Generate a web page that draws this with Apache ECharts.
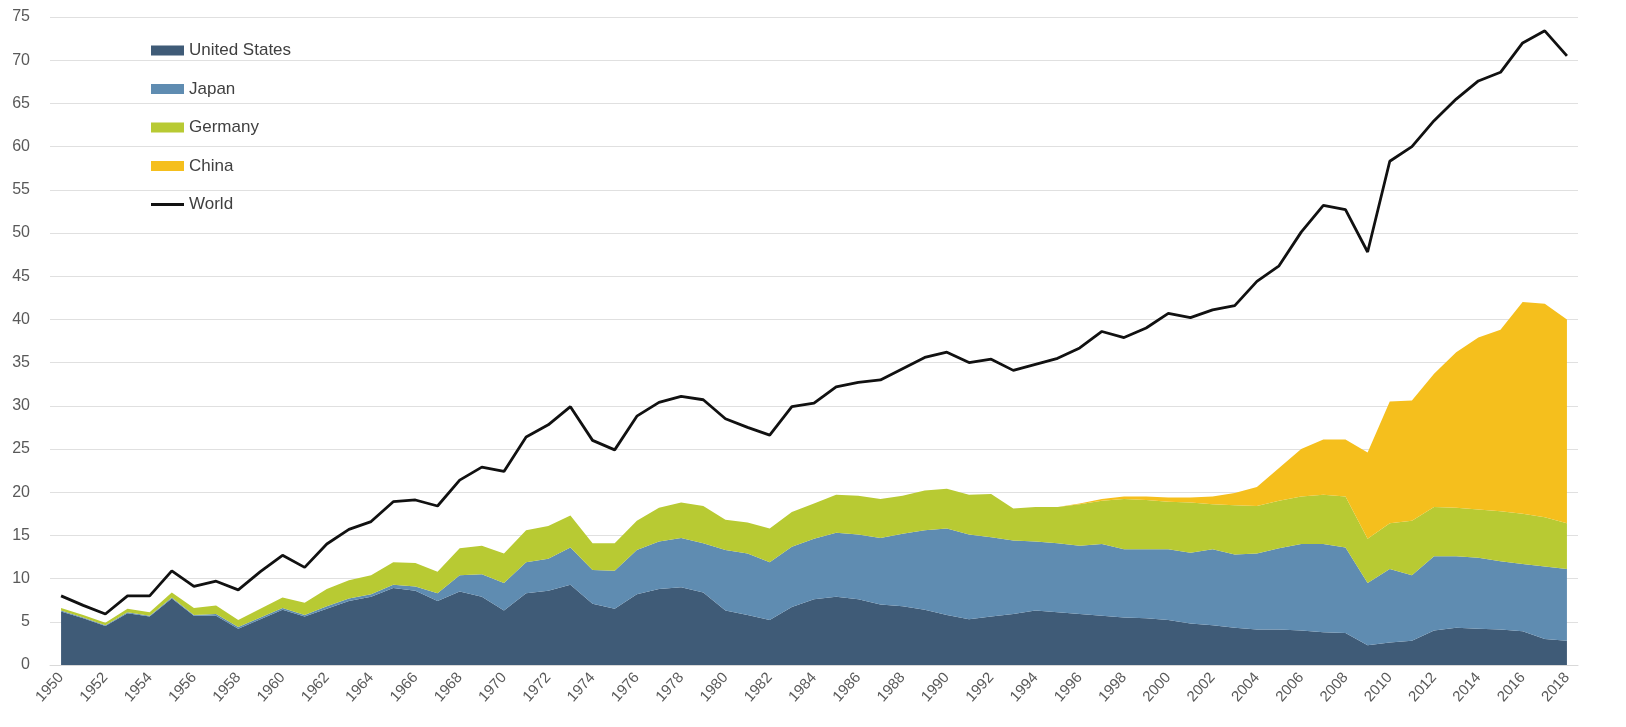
<!DOCTYPE html>
<html>
<head>
<meta charset="utf-8">
<script src="https://cdn.jsdelivr.net/npm/echarts@6/dist/echarts.min.js"></script>
<style>
html,body{margin:0;padding:0;background:#fff;}
#chart{width:1626px;height:727px;}
</style>
</head>
<body>
<div id="chart"></div>
<script>
const years = [];
for (let y = 1950; y <= 2018; y++) years.push(String(y));

const unitedStates = [6.2,5.4,4.5,6.0,5.6,7.7,5.7,5.7,4.2,5.3,6.4,5.6,6.5,7.4,7.9,8.9,8.6,7.4,8.5,7.9,6.3,8.3,8.6,9.3,7.1,6.5,8.2,8.8,9.0,8.4,6.3,5.8,5.2,6.7,7.6,7.9,7.6,7.0,6.8,6.4,5.8,5.3,5.6,5.9,6.3,6.1,5.9,5.7,5.5,5.4,5.2,4.8,4.6,4.3,4.1,4.1,4.0,3.8,3.7,2.3,2.6,2.8,4.0,4.3,4.2,4.1,3.9,3.0,2.8];
const japan = [0.1,0.1,0.1,0.1,0.1,0.1,0.1,0.2,0.2,0.2,0.2,0.2,0.3,0.3,0.3,0.4,0.5,0.9,1.9,2.6,3.2,3.6,3.7,4.3,3.9,4.4,5.1,5.5,5.7,5.7,7.0,7.1,6.7,7.0,7.0,7.4,7.5,7.7,8.4,9.2,10.0,9.8,9.2,8.5,8.0,8.0,7.9,8.3,7.9,8.0,8.2,8.2,8.8,8.5,8.8,9.4,10.0,10.2,9.9,7.2,8.5,7.6,8.6,8.3,8.2,7.9,7.8,8.4,8.3];
const germany = [0.3,0.3,0.3,0.4,0.4,0.6,0.8,1.0,0.8,1.0,1.2,1.4,2.0,2.1,2.2,2.6,2.7,2.5,3.1,3.3,3.4,3.7,3.8,3.7,3.1,3.2,3.4,3.9,4.1,4.3,3.5,3.6,3.9,4.0,4.1,4.4,4.5,4.5,4.4,4.6,4.6,4.6,5.0,3.7,4.0,4.2,4.8,5.0,5.8,5.7,5.5,5.8,5.2,5.7,5.5,5.5,5.5,5.7,5.9,5.1,5.3,6.3,5.7,5.6,5.6,5.8,5.8,5.7,5.3];
const china = [0,0,0,0,0,0,0,0,0,0,0,0,0,0,0,0,0,0,0,0,0,0,0,0,0,0,0,0,0,0,0,0,0,0,0,0,0,0,0,0,0,0,0,0,0,0,0.1,0.2,0.3,0.4,0.5,0.6,0.9,1.4,2.2,3.8,5.5,6.4,6.6,10.0,14.1,13.9,15.4,18.0,19.9,21.0,24.5,24.7,23.6];
const world = [8.0,6.9,5.9,8.0,8.0,10.9,9.1,9.7,8.7,10.8,12.7,11.3,14.0,15.7,16.6,18.9,19.1,18.4,21.4,22.9,22.4,26.4,27.8,29.9,26.0,24.9,28.8,30.4,31.1,30.7,28.5,27.5,26.6,29.9,30.3,32.2,32.7,33.0,34.3,35.6,36.2,35.0,35.4,34.1,34.8,35.5,36.7,38.6,37.9,39.0,40.7,40.2,41.1,41.6,44.4,46.2,50.1,53.2,52.7,47.8,58.3,60.0,63.0,65.5,67.6,68.6,72.0,73.4,70.5];

const colors = {us:'#3f5b77', jp:'#5f8cb1', de:'#b8ca33', cn:'#f5bf1d', world:'#111111'};

function area(name, data, color){
  return {
    name, type:'line', stack:'total', data,
    symbol:'none', smooth:false,
    lineStyle:{width:0, color},
    itemStyle:{color},
    areaStyle:{color, opacity:1},
    emphasis:{disabled:true}
  };
}

const chart = echarts.init(document.getElementById('chart'), null, {renderer:'canvas'});
chart.setOption({
  animation:false,
  backgroundColor:'#ffffff',
  textStyle:{fontFamily:'Liberation Sans, Arial, sans-serif'},
  grid:{left:50, right:48, top:17, bottom:62, containLabel:false},
  legend:{
    orient:'vertical', left:146, top:37,
    itemWidth:33, itemHeight:10, itemGap:21.5,
    textStyle:{fontSize:17, color:'#404040', fontFamily:'Liberation Sans, Arial, sans-serif'},
    data:[
      {name:'United States', icon:'rect'},
      {name:'Japan', icon:'rect'},
      {name:'Germany', icon:'rect'},
      {name:'China', icon:'rect'},
      {name:'World', icon:'path://M0,0H33V3H0Z'}
    ]
  },
  xAxis:{
    type:'category', data:years, boundaryGap:true,
    axisLine:{show:true, lineStyle:{color:'#d9d9d9'}},
    axisTick:{show:false},
    axisLabel:{interval:1, rotate:48, fontSize:15, color:'#595959', margin:10}
  },
  yAxis:{
    type:'value', min:0, max:75, interval:5,
    axisLine:{show:false}, axisTick:{show:false},
    axisLabel:{fontSize:16, color:'#595959', margin:20},
    splitLine:{lineStyle:{color:'#e0e0e0', width:1}}
  },
  series:[
    area('United States', unitedStates, colors.us),
    area('Japan', japan, colors.jp),
    area('Germany', germany, colors.de),
    area('China', china, colors.cn),
    {name:'World', type:'line', data:world, symbol:'none', z:5,
     lineStyle:{width:2.8, color:colors.world}, itemStyle:{color:colors.world}}
  ]
});
</script>
</body>
</html>
